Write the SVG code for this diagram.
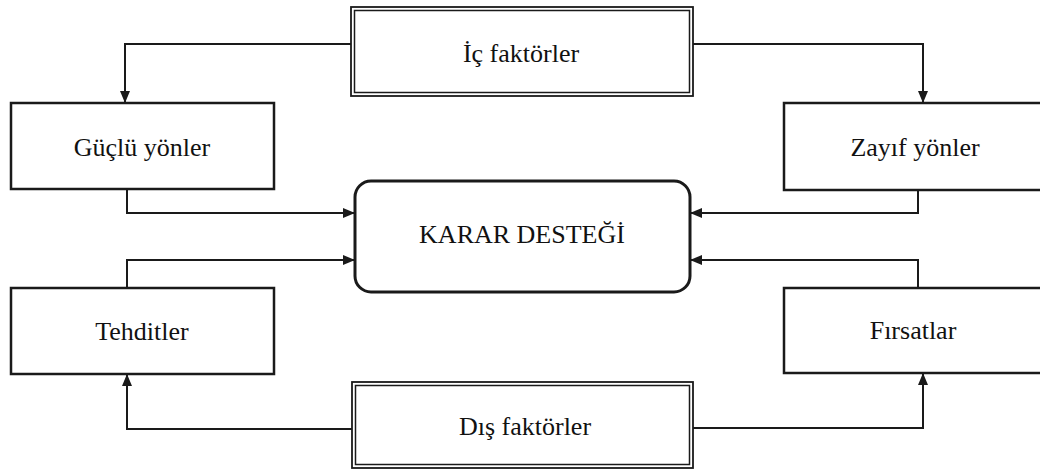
<svg xmlns="http://www.w3.org/2000/svg" width="1040" height="474" viewBox="0 0 1040 474">
  <style>
    .box { fill: #fff; stroke: #1a1a1a; stroke-width: 2.5; }
    .dbl { fill: none; stroke: #1a1a1a; stroke-width: 1.5; }
    .hub { fill: #fff; stroke: #1a1a1a; stroke-width: 3; }
    .lbl { font-family: "Liberation Serif", "Times New Roman", serif; font-size: 26px; fill: #111; text-anchor: middle; }
    .wire { fill: none; stroke: #1a1a1a; stroke-width: 2; }
  </style>
  <defs>
    <marker id="head" viewBox="0 0 12 10" refX="11" refY="5" markerWidth="12" markerHeight="10" markerUnits="userSpaceOnUse" orient="auto">
      <path d="M0,0 L12,5 L0,10 Z" fill="#1a1a1a"/>
    </marker>
  </defs>
  <rect width="1040" height="474" fill="#fff"/>

  <!-- connectors -->
  <g id="connectors">
    <path class="wire" d="M352,44 H125 V102" marker-end="url(#head)"/>
    <path class="wire" d="M692,44 H923 V102" marker-end="url(#head)"/>
    <path class="wire" d="M127,189 V213 H354" marker-end="url(#head)"/>
    <path class="wire" d="M918,190 V213 H691" marker-end="url(#head)"/>
    <path class="wire" d="M127,288 V260 H354" marker-end="url(#head)"/>
    <path class="wire" d="M918,288 V260 H691" marker-end="url(#head)"/>
    <path class="wire" d="M352,429 H127 V375" marker-end="url(#head)"/>
    <path class="wire" d="M692,428 H923 V374" marker-end="url(#head)"/>
  </g>

  <!-- internal factors -->
  <g id="ic-faktorler">
    <rect x="351" y="7" width="342" height="89" fill="#fff" stroke="#1a1a1a" stroke-width="1.8"/>
    <rect class="dbl" x="354.5" y="10.5" width="335" height="82"/>
    <text class="lbl" x="521" y="62">İç faktörler</text>
  </g>

  <g id="guclu-yonler">
    <rect class="box" x="11" y="103" width="263" height="86"/>
    <text class="lbl" x="142" y="156">Güçlü yönler</text>
  </g>

  <g id="zayif-yonler">
    <rect class="box" x="784" y="103" width="260" height="87"/>
    <text class="lbl" x="915" y="156">Zayıf yönler</text>
  </g>

  <g id="karar-destegi">
    <rect class="hub" x="355" y="181" width="335" height="111" rx="16" ry="16"/>
    <text class="lbl" x="522" y="243">KARAR DESTEĞİ</text>
  </g>

  <g id="tehditler">
    <rect class="box" x="11" y="288" width="263" height="86"/>
    <text class="lbl" x="142" y="340">Tehditler</text>
  </g>

  <g id="firsatlar">
    <rect class="box" x="784" y="288" width="260" height="85"/>
    <text class="lbl" x="913" y="339">Fırsatlar</text>
  </g>

  <!-- external factors -->
  <g id="dis-faktorler">
    <rect x="352" y="382" width="341" height="86" fill="#fff" stroke="#1a1a1a" stroke-width="1.8"/>
    <rect class="dbl" x="355.5" y="385.5" width="334" height="79"/>
    <text class="lbl" x="525" y="435">Dış faktörler</text>
  </g>
</svg>
